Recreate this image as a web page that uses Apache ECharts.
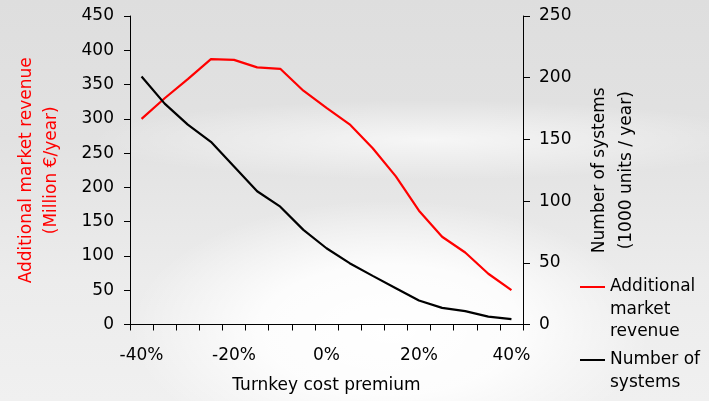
<!DOCTYPE html>
<html>
<head>
<meta charset="utf-8">
<script src="https://cdn.jsdelivr.net/npm/echarts@6/dist/echarts.min.js"></script>
<style>
html,body{margin:0;padding:0;}
#bg{position:absolute;left:0;top:0;width:709px;height:401px;
background:
 radial-gradient(ellipse 260px 130px at 390px 330px, rgba(255,255,255,1) 0%, rgba(255,255,255,0.85) 50%, rgba(255,255,255,0) 100%),
 radial-gradient(ellipse 340px 40px at 430px 140px, rgba(255,255,255,0.7) 0%, rgba(255,255,255,0) 100%),
 linear-gradient(180deg, #dedede 0%, #e2e2e2 35%, #ececec 70%, #f0f0f0 100%);}
#chart{position:absolute;left:0;top:0;width:709px;height:401px;}
</style>
</head>
<body>
<div id="bg"></div>
<div id="chart"></div>
<script>
var categories = ['-40%','-35%','-30%','-25%','-20%','-15%','-10%','-5%','0%','5%','10%','15%','20%','25%','30%','35%','40%'];
var revenue = [300, 330, 358, 387, 386, 375, 373, 341, 316, 292, 257, 216, 166, 128, 105, 74, 50];
var systems = [201, 179, 162, 148, 128, 108, 95.5, 76.7, 61.8, 49.7, 39.4, 29.4, 19.4, 13.5, 10.8, 6.4, 4.3];
var leftTicks = [0, 450, 50];
var rightTicks = [0, 250, 50];

var FONT = 'DejaVu Sans';
var FS = 17;
var LH = 22.5;
var chart = echarts.init(document.getElementById('chart'), null, {renderer: 'canvas'});
chart.setOption({
  backgroundColor: 'transparent',
  animation: false,
  textStyle: {fontFamily: FONT},
  grid: {left: 130, right: 186, top: 16, bottom: 76.5},
  legend: [
    {
      data: ['Additional market revenue'],
      orient: 'vertical', left: 580, top: 287 - 2.5 * LH,
      icon: 'rect', itemWidth: 25, itemHeight: 2, itemGap: 0, padding: 0,
      formatter: function () { return ' \n \nAdditional\nmarket\nrevenue'; },
      textStyle: {fontFamily: FONT, fontSize: FS, color: '#000', lineHeight: LH},
      selectedMode: false
    },
    {
      data: ['Number of systems'],
      orient: 'vertical', left: 580, top: 360 - 1.5 * LH,
      icon: 'rect', itemWidth: 25, itemHeight: 2, itemGap: 0, padding: 0,
      formatter: function () { return ' \nNumber of\nsystems'; },
      textStyle: {fontFamily: FONT, fontSize: FS, color: '#000', lineHeight: LH},
      selectedMode: false
    }
  ],
  xAxis: {
    type: 'category',
    data: categories,
    boundaryGap: true,
    name: 'Turnkey cost premium',
    nameLocation: 'middle',
    nameGap: 53,
    nameTextStyle: {fontFamily: FONT, fontSize: FS, color: '#000'},
    axisLine: {lineStyle: {color: '#000', width: 1}},
    axisTick: {show: true, interval: 0, alignWithLabel: false, length: 6, lineStyle: {color: '#000'}},
    axisLabel: {interval: 3, margin: 23, fontFamily: FONT, fontSize: FS, color: '#000'},
    splitLine: {show: false}
  },
  yAxis: [
    {
      type: 'value', position: 'left',
      min: leftTicks[0], max: leftTicks[1], interval: leftTicks[2],
      name: 'Additional market revenue\n(Million €/year)',
      nameLocation: 'middle', nameGap: 66,
      nameTextStyle: {fontFamily: FONT, fontSize: FS, color: '#ff0000', lineHeight: 25, align: 'center'},
      axisLine: {show: true, lineStyle: {color: '#000', width: 1}},
      axisTick: {show: true, length: 6, lineStyle: {color: '#000'}},
      axisLabel: {margin: 16, fontFamily: FONT, fontSize: FS, color: '#000'},
      splitLine: {show: false}
    },
    {
      type: 'value', position: 'right',
      min: rightTicks[0], max: rightTicks[1], interval: rightTicks[2],
      name: 'Number of systems\n(1000 units / year)',
      nameLocation: 'middle', nameGap: 63,
      nameTextStyle: {fontFamily: FONT, fontSize: FS, color: '#000', lineHeight: 27, align: 'center'},
      axisLine: {show: true, lineStyle: {color: '#000', width: 1}},
      axisTick: {show: true, length: 7, lineStyle: {color: '#000'}},
      axisLabel: {margin: 16, fontFamily: FONT, fontSize: FS, color: '#000'},
      splitLine: {show: false}
    }
  ],
  series: [
    {
      name: 'Additional market revenue', type: 'line', yAxisIndex: 0,
      data: revenue, symbol: 'none',
      lineStyle: {color: '#ff0000', width: 2.2}, itemStyle: {color: '#ff0000'}
    },
    {
      name: 'Number of systems', type: 'line', yAxisIndex: 1,
      data: systems, symbol: 'none',
      lineStyle: {color: '#000000', width: 2.2}, itemStyle: {color: '#000000'}
    }
  ]
});
</script>
</body>
</html>
